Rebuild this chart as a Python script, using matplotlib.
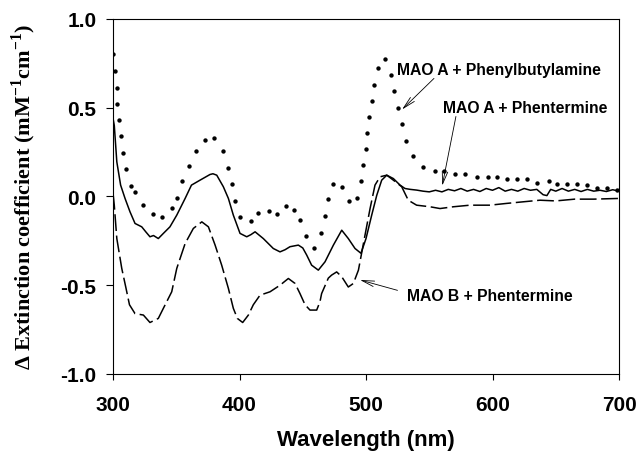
import numpy as np
import matplotlib.pyplot as plt

plt.rcParams['mathtext.fontset'] = 'custom'
plt.rcParams['mathtext.rm'] = 'Liberation Serif'
plt.rcParams['mathtext.bf'] = 'Liberation Serif:bold'

# MAO A + Phenylbutylamine (dotted)
pba_wl = [300, 301.6, 303, 303.4, 304.7, 306, 307.6, 310.3, 314.2, 317.4, 323.5, 331.4,
          339, 346.4, 350.8, 354.8, 360, 365.4, 372.7, 379.8, 387.2, 390.7, 393.8, 396.4,
          400.4, 408.8, 414.9, 423.6, 429.9, 436.8, 443.1, 447.8, 452.3, 458.9, 464.4,
          467.6, 469.7, 474.2, 481.3, 486.8, 492.6, 496, 497.4, 499.8, 501, 502.6, 504.5,
          506.6, 509.7, 515, 519.8, 522.4, 525.1, 528.2, 531.6, 537.4, 544.8, 554.5,
          561.9, 570.4, 578.3, 587.5, 596.2, 603.8, 611.2, 619.1, 627, 635, 645, 651.2,
          658.7, 666.6, 674.5, 682.4, 690.3, 698.2]
pba_val = [0.80, 0.706, 0.61, 0.52, 0.43, 0.34, 0.246, 0.152, 0.06, 0.026, -0.049, -0.10,
           -0.115, -0.064, -0.008, 0.086, 0.17, 0.257, 0.32, 0.33, 0.255, 0.16, 0.07, -0.023,
           -0.115, -0.139, -0.092, -0.079, -0.096, -0.055, -0.075, -0.13, -0.22, -0.293,
           -0.203, -0.109, -0.017, 0.071, 0.053, -0.026, -0.006, 0.088, 0.176, 0.267, 0.36,
           0.45, 0.54, 0.63, 0.725, 0.774, 0.683, 0.595, 0.50, 0.41, 0.31, 0.23, 0.167,
           0.145, 0.143, 0.126, 0.126, 0.107, 0.107, 0.107, 0.098, 0.096, 0.096, 0.077,
           0.088, 0.073, 0.073, 0.073, 0.064, 0.049, 0.049, 0.036]

# MAO A + Phentermine (solid)
pha_wl = [300, 301, 303, 306, 309.5, 313.4, 317.4, 322.7, 326, 329.2, 332, 335.8, 339.8,
          345, 350.4, 357, 362, 368.8, 376.7, 379, 382, 387.2, 391.2, 395.1, 400.4, 405.7,
          409, 412.3, 418.8, 426.7, 432, 436, 439.9, 446.5, 450, 453.1, 457, 462.3, 467.6,
          474.2, 480.8, 486, 491.3, 496, 500, 504.5, 508.5, 512.4, 516.4, 521.6, 526.9,
          530.8, 535, 540, 545, 550, 555, 560, 565, 570, 575, 580, 585, 590, 595, 600,
          605, 610, 615, 620, 625, 630, 635, 640, 643, 646, 650, 655, 660, 665, 670, 675,
          680, 685, 690, 695, 700]
pha_val = [0.44, 0.40, 0.195, 0.064, -0.011, -0.086, -0.152, -0.171, -0.20, -0.227, -0.22,
           -0.237, -0.208, -0.171, -0.105, -0.011, 0.064, 0.092, 0.124, 0.128, 0.12, 0.055,
           -0.011, -0.105, -0.208, -0.227, -0.215, -0.199, -0.237, -0.293, -0.312, -0.30,
           -0.283, -0.274, -0.29, -0.33, -0.387, -0.415, -0.368, -0.274, -0.19, -0.237,
           -0.293, -0.32, -0.237, -0.105, 0.007, 0.092, 0.12, 0.101, 0.064, 0.045, 0.04,
           0.036, 0.03, 0.026, 0.035, 0.026, 0.04, 0.032, 0.045, 0.03, 0.04, 0.028, 0.045,
           0.035, 0.05, 0.03, 0.04, 0.03, 0.045, 0.035, 0.04, 0.01, 0.005, 0.04, 0.03,
           0.045, 0.03, 0.04, 0.028, 0.04, 0.03, 0.035, 0.028, 0.038, 0.03]

# MAO B + Phentermine (dashed)
phb_wl = [300, 301, 303, 306.9, 310.3, 313, 317.4, 324, 329.2, 335.8, 339.8, 346.4, 350.4,
          357, 363.5, 370.2, 375.4, 380.7, 385.9, 391.2, 395.1, 398.3, 402.5, 407, 410.9,
          416.2, 424.1, 432, 438.6, 443.9, 447.8, 451.8, 455.7, 461, 463.6, 464.9, 470.2,
          472.8, 476.8, 480.8, 486, 490, 494, 499.2, 503.2, 507.1, 511.1, 516.4, 521.6,
          528.2, 533.4, 540, 550.6, 558.5, 569, 582.2, 598, 611.2, 624.3, 637.5, 650, 665,
          680, 700]
phb_val = [0.02, -0.05, -0.237, -0.405, -0.518, -0.61, -0.66, -0.668, -0.71, -0.687, -0.63,
           -0.537, -0.405, -0.265, -0.18, -0.143, -0.171, -0.274, -0.387, -0.518, -0.63,
           -0.687, -0.71, -0.668, -0.61, -0.556, -0.537, -0.5, -0.462, -0.49, -0.547, -0.61,
           -0.64, -0.64, -0.593, -0.547, -0.46, -0.443, -0.425, -0.452, -0.51, -0.49,
           -0.415, -0.218, -0.068, 0.064, 0.111, 0.12, 0.092, 0.055, -0.021, -0.049,
           -0.058, -0.068, -0.058, -0.049, -0.049, -0.039, -0.03, -0.021, -0.025, -0.015,
           -0.015, -0.011]

fig = plt.figure(figsize=(6.4, 4.52), dpi=100)
ax = fig.add_axes([0.1766, 0.1704, 0.7906, 0.7854])

ax.plot(pba_wl, pba_val, 'k.', markersize=4.3)
ax.plot(pha_wl, pha_val, 'k-', linewidth=1.1)
ax.plot(phb_wl, phb_val, color='k', linewidth=1.1, dashes=(11, 3))

ax.set_xlim(300, 700)
ax.set_ylim(-1.0, 1.0)
ax.set_xticks([300, 400, 500, 600, 700])
ax.set_yticks([-1.0, -0.5, 0.0, 0.5, 1.0])
ax.set_yticklabels(['-1.0', '-0.5', '0.0', '0.5', '1.0'])
ax.tick_params(axis='x', direction='out', length=4, pad=11)
ax.tick_params(axis='y', direction='out', length=5, pad=7)
for lab in ax.get_xticklabels() + ax.get_yticklabels():
    lab.set_fontfamily('Liberation Sans')
    lab.set_fontweight('bold')
    lab.set_fontsize(15)

ax.set_xlabel('Wavelength (nm)', family='Liberation Sans', fontweight='bold',
              fontsize=16, labelpad=11)
ax.set_ylabel('\u0394 Extinction coefficient (mM$^{\\mathbf{-1}}$cm$^{\\mathbf{-1}}$)',
              family='Liberation Serif', fontweight='bold', fontsize=16, labelpad=16)

arrow = dict(arrowstyle='->, head_length=0.9, head_width=0.2', color='k', lw=0.6)
txt = dict(family='Liberation Sans', fontweight='bold', fontsize=11.3, va='center')

ax.text(524.5, 0.715, 'MAO A + Phenylbutylamine', **txt)
ax.annotate('', xy=(526.9, 0.479), xytext=(555.3, 0.676), arrowprops=arrow)

ax.text(560.9, 0.50, 'MAO A + Phentermine', **txt)
ax.annotate('', xy=(559.8, 0.045), xytext=(571.5, 0.466), arrowprops=arrow)

ax.text(532.4, -0.558, 'MAO B + Phentermine', **txt)
ax.annotate('', xy=(493.1, -0.466), xytext=(527.0, -0.533), arrowprops=arrow)

fig.savefig('out.png', dpi=100)
